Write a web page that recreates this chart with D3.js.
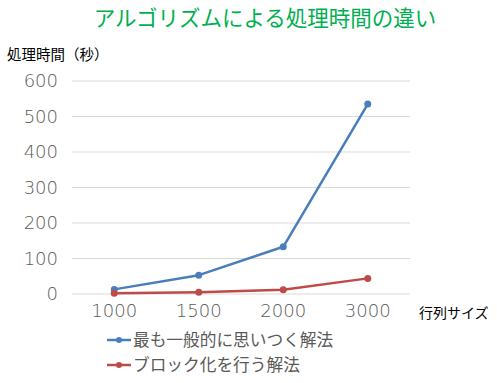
<!DOCTYPE html>
<html><head><meta charset="utf-8">
<script src="https://cdn.jsdelivr.net/npm/d3@7"></script>
<style>
html,body{margin:0;padding:0;background:#fff;}
text{font-family:"Noto Sans CJK JP","Noto Sans",sans-serif;}
</style></head>
<body><svg id="c" width="497" height="383"></svg>
<script>
const categories = ["1000","1500","2000","3000"];
const seriesNames = ["最も一般的に思いつく解法","ブロック化を行う解法"];
const seriesA = [13, 53, 133, 535];
const seriesB = [2, 5, 12, 44];
const yTicks = [0,100,200,300,400,500,600];
const colors = ["#4A7EBB","#BE4B48"];

const svg = d3.select("#c");
const x = d3.scaleBand().domain(categories).range([72,410]);
const y = d3.scaleLinear().domain([0,600]).range([294,81]);

svg.append("text").attr("x",265).attr("y",25.5).attr("text-anchor","middle")
  .attr("fill","#00B050").attr("font-size",21.5).text("アルゴリズムによる処理時間の違い");
svg.append("text").attr("x",7).attr("y",60).attr("fill","#000").attr("font-size",14.5)
  .text("処理時間（秒）");

// gridlines
svg.append("g").selectAll("line").data(yTicks).join("line")
  .attr("x1",72).attr("x2",410).attr("y1",d=>y(d)).attr("y2",d=>y(d))
  .attr("stroke","#D9D9D9").attr("stroke-width",1);

const yAxis = svg.append("g").attr("transform","translate(72,0)")
  .call(d3.axisLeft(y).tickValues(yTicks).tickSize(0).tickPadding(14));
yAxis.select(".domain").remove();
yAxis.selectAll("text").attr("fill","#595959").attr("font-size",18)
  .style("font-family","'DejaVu Sans',sans-serif").style("font-weight",200);

const xAxis = svg.append("g").attr("transform","translate(0,294)")
  .call(d3.axisBottom(x).tickSize(0).tickPadding(10));
xAxis.select(".domain").remove();
xAxis.selectAll("text").attr("fill","#595959").attr("font-size",18)
  .style("font-family","'DejaVu Sans',sans-serif").style("font-weight",200);

svg.append("text").attr("x",419).attr("y",318).attr("fill","#000").attr("font-size",14)
  .text("行列サイズ");

const line = d3.line().x((d,i)=>x(categories[i])+x.bandwidth()/2).y(d=>y(d));
[seriesA, seriesB].forEach((s,k)=>{
  svg.append("path").datum(s).attr("d",line).attr("fill","none")
    .attr("stroke",colors[k]).attr("stroke-width",2.5).attr("stroke-linejoin","round");
  svg.append("g").selectAll("circle").data(s).join("circle")
    .attr("cx",(d,i)=>x(categories[i])+x.bandwidth()/2).attr("cy",d=>y(d))
    .attr("r",3.5).attr("fill",colors[k]);
});

// legend
seriesNames.forEach((n,k)=>{
  const ly = 340 + k*25;
  svg.append("line").attr("x1",107).attr("x2",131).attr("y1",ly).attr("y2",ly)
    .attr("stroke",colors[k]).attr("stroke-width",2.5);
  svg.append("circle").attr("cx",119).attr("cy",ly).attr("r",3).attr("fill",colors[k]);
  svg.append("text").attr("x",133).attr("y",ly+6).attr("fill","#595959").attr("font-size",16.7).text(n);
});
</script></body></html>
